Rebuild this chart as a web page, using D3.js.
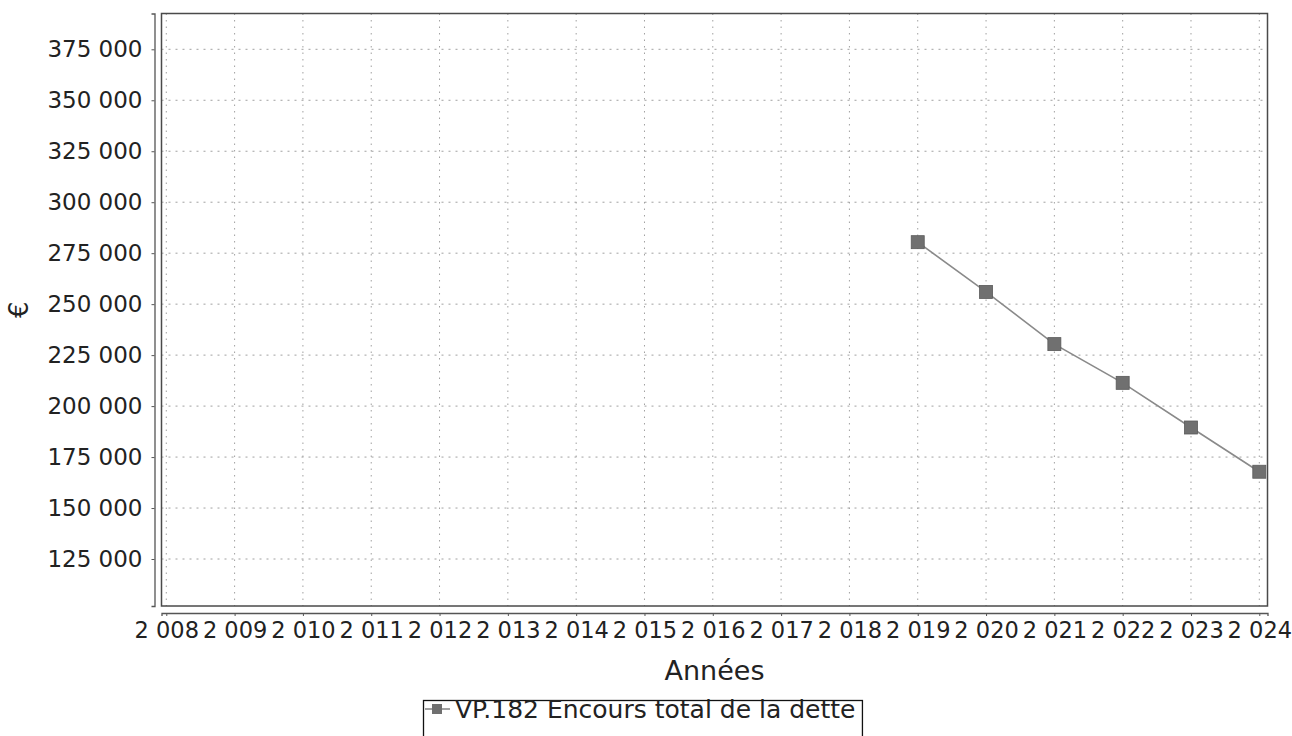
<!DOCTYPE html>
<html>
<head>
<meta charset="utf-8">
<script src="https://cdnjs.cloudflare.com/ajax/libs/d3/7.8.5/d3.min.js"></script>
<style>
  body { margin: 0; background: #fff; }
  text { font-family: "DejaVu Sans", sans-serif; fill: #222; }
</style>
</head>
<body>
<div id="chart"></div>
<script>
// Encours total de la dette, 2019-2024
var years = [2019, 2020, 2021, 2022, 2023, 2024];
var encours = [280400, 256000, 230400, 211400, 189500, 167800];
var xTicks = [2008, 2009, 2010, 2011, 2012, 2013, 2014, 2015, 2016, 2017, 2018, 2019, 2020, 2021, 2022, 2023, 2024];
var yTicks = [125000, 150000, 175000, 200000, 225000, 250000, 275000, 300000, 325000, 350000, 375000];
var seriesName = "VP.182 Encours total de la dette";

var W = 1292, H = 736;
var plot = {left: 161.5, top: 13.5, right: 1267.5, bottom: 606};

var fr = d3.formatLocale({decimal: ",", thousands: "\u00a0", grouping: [3], currency: ["", " €"]});
var fmt = fr.format(",d");

var svg = d3.select("#chart").append("svg")
    .attr("width", W)
    .attr("height", H);

var x = d3.scaleLinear()
    .domain([2007.93, 2024.12])
    .range([plot.left, plot.right]);

var y = d3.scaleLinear()
    .domain([101950, 392560])
    .range([plot.bottom, plot.top]);

// grid
svg.append("g")
    .selectAll("line")
    .data(yTicks)
    .enter()
    .append("line")
    .attr("x1", plot.left).attr("x2", plot.right)
    .attr("y1", function (d) { return y(d); })
    .attr("y2", function (d) { return y(d); })
    .attr("stroke", "#a0a0a0")
    .attr("stroke-width", 1)
    .attr("stroke-dasharray", "2,5");

svg.append("g")
    .selectAll("line")
    .data(xTicks)
    .enter()
    .append("line")
    .attr("y1", plot.top).attr("y2", plot.bottom)
    .attr("x1", function (d) { return x(d); })
    .attr("x2", function (d) { return x(d); })
    .attr("stroke", "#a0a0a0")
    .attr("stroke-width", 1)
    .attr("stroke-dasharray", "1.5,5");

// plot outline
svg.append("rect")
    .attr("x", plot.left).attr("y", plot.top)
    .attr("width", plot.right - plot.left)
    .attr("height", plot.bottom - plot.top)
    .attr("fill", "none")
    .attr("stroke", "#4a4a4a")
    .attr("stroke-width", 1.5);

// axes, set slightly away from the plot
var yAxis = svg.append("g")
    .attr("transform", "translate(" + (plot.left - 7) + ",0)")
    .call(d3.axisLeft(y).tickValues(yTicks).tickFormat(fmt).tickSize(3).tickPadding(9));

var xAxis = svg.append("g")
    .attr("transform", "translate(0," + (plot.bottom + 7) + ")")
    .call(d3.axisBottom(x).tickValues(xTicks).tickFormat(fmt).tickSize(3).tickPadding(6));

[yAxis, xAxis].forEach(function (a) {
    a.select(".domain").attr("stroke", "#555").attr("stroke-width", 1.3);
    a.selectAll(".tick line").attr("stroke", "#555");
    a.selectAll(".tick text")
        .attr("fill", "#222")
        .style("font-family", "'DejaVu Sans', sans-serif")
        .style("font-size", "23px");
});
xAxis.selectAll(".tick text").style("font-size", "22.5px");

// axis labels
svg.append("text")
    .attr("text-anchor", "middle")
    .attr("x", (plot.left + plot.right) / 2)
    .attr("y", 680)
    .style("font-size", "27px")
    .text("Années");

svg.append("text")
    .attr("text-anchor", "middle")
    .attr("transform", "translate(28," + ((plot.top + plot.bottom) / 2) + ") rotate(-90)")
    .style("font-size", "26px")
    .text("€");

// series
var pts = years.map(function (d, i) { return {year: d, value: encours[i]}; });

svg.append("path")
    .datum(pts)
    .attr("fill", "none")
    .attr("stroke", "#8a8a8a")
    .attr("stroke-width", 1.6)
    .attr("d", d3.line()
        .x(function (d) { return x(d.year); })
        .y(function (d) { return y(d.value); }));

var ms = 13;
svg.append("g")
    .selectAll("rect")
    .data(pts)
    .enter()
    .append("rect")
    .attr("x", function (d) { return x(d.year) - ms / 2; })
    .attr("y", function (d) { return y(d.value) - ms / 2; })
    .attr("width", ms).attr("height", ms)
    .attr("fill", "#707070")
    .attr("stroke", "#5a5a5a")
    .attr("stroke-width", 0.8);

// legend
var lg = svg.append("g");
var lgText = lg.append("text")
    .attr("x", 455)
    .attr("y", 718)
    .style("font-size", "25px")
    .text(seriesName);
var tw = lgText.node().getComputedTextLength();

lg.insert("rect", "text")
    .attr("x", 423.5).attr("y", 700.5)
    .attr("width", 455 + tw + 7 - 423.5)
    .attr("height", 50)
    .attr("fill", "#fff")
    .attr("stroke", "#111")
    .attr("stroke-width", 1.3);

lg.append("line")
    .attr("x1", 425).attr("x2", 450)
    .attr("y1", 709).attr("y2", 709)
    .attr("stroke", "#8a8a8a")
    .attr("stroke-width", 1.6);

lg.append("rect")
    .attr("x", 432).attr("y", 704)
    .attr("width", 10).attr("height", 10)
    .attr("fill", "#707070");
</script>
</body>
</html>
